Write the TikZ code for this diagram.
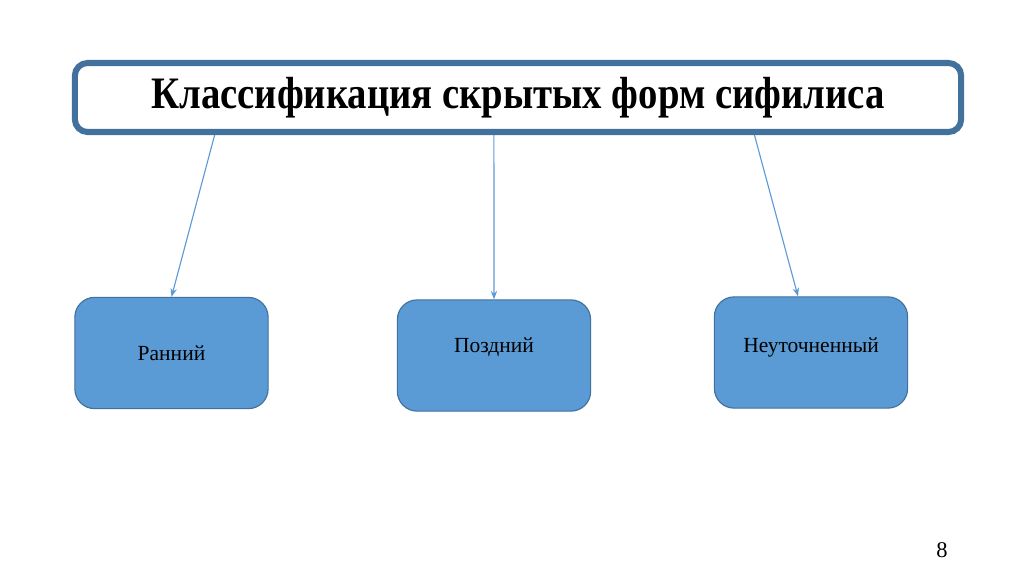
\documentclass[tikz,border=0pt]{standalone}
\usepackage{fontspec}
\setmainfont{Liberation Serif}
\usepackage{xcolor}
\definecolor{boxblue}{RGB}{91,155,213}
\definecolor{edgeblue}{RGB}{65,113,156}
\usepackage{tikz}
\usetikzlibrary{arrows.meta,positioning,calc}

\begin{document}
\begin{tikzpicture}[
    x=0.025cm, y=-0.025cm,
    headbox/.style={
      rectangle, rounded corners=9pt, draw=edgeblue, line width=4.3pt, fill=white,
      minimum width=22.15cm, minimum height=1.725cm, align=center,
      font=\fontsize{32}{36}\selectfont\bfseries,
    },
    kind/.style={
      rectangle, rounded corners=14pt, draw=edgeblue, line width=0.8pt, fill=boxblue,
      minimum width=4.83cm, minimum height=2.78cm, align=center,
      font=\fontsize{15.3}{18}\selectfont,
    },
    link/.style={-{Stealth[length=6pt,width=4.5pt]}, line width=0.8pt, boxblue},
  ]
  \useasboundingbox (0,0) rectangle (1024,574);

  %% --- title ---
  \node[headbox] (title) at (518,97.5)
    {\scalebox{0.86}[1]{Классификация скрытых форм сифилиса}};

  %% --- kinds ---
  \node[kind] (early) at (171.5,353) {Ранний};
  \node[kind, text depth=0.5cm] (late) at (494,355.5) {Поздний};
  \node[kind, text depth=0.35cm] (unspec) at (811,352.5) {Неуточненный};

  %% --- arrows ---
  \coordinate (t1) at ($(title.south west)!0.16!(title.south east)$);
  \coordinate (t2) at ($(title.south west)!0.473!(title.south east)$);
  \coordinate (t3) at ($(title.south west)!0.765!(title.south east)$);
  \coordinate (u3) at ($(unspec.north)+(-13,0)$);
  \draw[link] (t1) -- (early.north);
  \draw[link] (t2) -- (late.north);
  \draw[link] (t3) -- (u3);

  %% --- page number ---
  \node[font=\fontsize{16}{19}\selectfont] (page) at (942,550) {8};
\end{tikzpicture}
\end{document}
